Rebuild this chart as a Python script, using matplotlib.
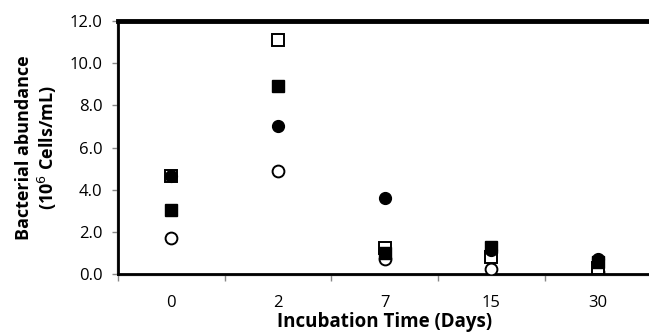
import matplotlib
matplotlib.use("Agg")
import matplotlib.pyplot as plt
import numpy as np
from matplotlib.lines import Line2D

days = ["0", "2", "7", "15", "30"]
open_square = [4.65, 11.1, 1.23, 0.8, 0.3]
filled_square = [3.05, 8.9, 1.0, 1.3, 0.57]
filled_circle = [4.65, 7.0, 3.6, 1.15, 0.71]
open_circle = [1.7, 4.9, 0.71, 0.25, 0.1]
yticks = [0, 2, 4, 6, 8, 10, 12]

plt.rcParams['font.family'] = ['Open Sans', 'DejaVu Sans']

fig = plt.figure(figsize=(6.49, 3.34), dpi=100)
ax = fig.add_axes([118/649, 1-274/334, 533.5/649, 253/334])

x = np.arange(len(days))
ax.plot(x, open_circle, 'o', ms=8.5, mfc='white', mec='black', mew=1.4, ls='none', zorder=3)
ax.plot(x, open_square, 's', ms=8, mfc='white', mec='black', mew=1.4, ls='none', zorder=4)
ax.plot(x, filled_square, 's', ms=8, mfc='black', mec='black', mew=1.0, ls='none', zorder=5)
ax.plot(x, filled_circle, 'o', ms=8.5, mfc='black', mec='black', mew=1.0, ls='none', zorder=6)

ax.set_xlim(-0.5, len(days) - 0.5)
ax.set_ylim(0, 12)
ax.set_yticks(yticks)
ax.set_yticklabels([f"{v:.1f}" for v in yticks], fontsize=12)
ax.set_xticks(x)
ax.set_xticklabels(days, fontsize=12)
ax.tick_params(axis='x', which='major', length=0, pad=15)
ax.set_xticks(np.arange(-0.5, len(days)), minor=True)
ax.tick_params(axis='x', which='minor', length=5, color='#888888', width=1)
ax.tick_params(axis='y', which='major', length=4, color='#888888', width=1, pad=7)

ax.spines['right'].set_visible(False)
ax.spines['top'].set_linewidth(3.5)
ax.spines['left'].set_linewidth(2.0)
ax.spines['bottom'].set_linewidth(2.0)
# shadow lines
ax.add_line(Line2D([-0.5 - 0.008, -0.5 - 0.008], [0, 12], color='#999999', lw=1, clip_on=False, zorder=1))
ax.plot([-0.5, 4.5], [-0.07, -0.07], color='#999999', lw=1, clip_on=False, zorder=1)

ax.set_ylabel("Bacterial abundance\n(10$^{6}$ Cells/mL)", fontsize=13, fontweight='bold', labelpad=8, linespacing=1.15)
ax.set_xlabel("Incubation Time (Days)", fontsize=13.5, fontweight='bold', labelpad=1)

fig.savefig("out.png", dpi=100)
